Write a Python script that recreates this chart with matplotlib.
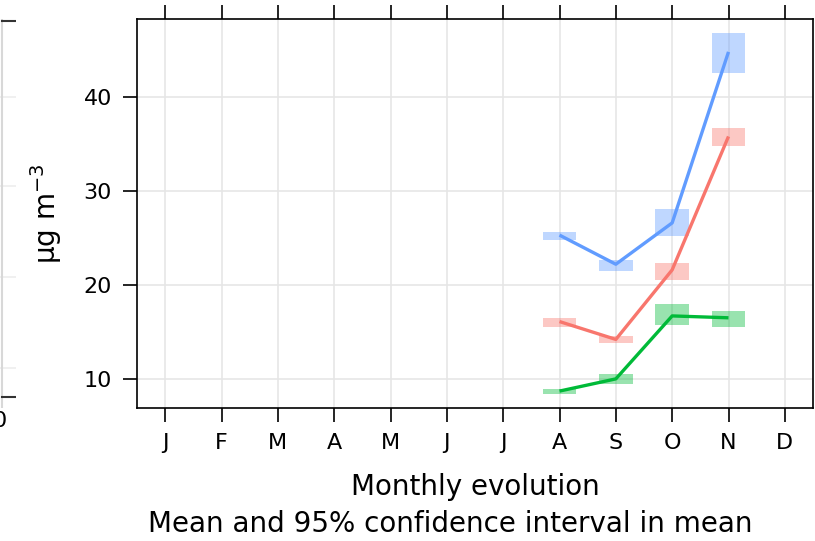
import matplotlib
matplotlib.use("Agg")
import matplotlib.pyplot as plt
from matplotlib.patches import Rectangle

plt.rcParams["font.family"] = ["DejaVu Sans"]

months = ["J", "F", "M", "A", "M", "J", "J", "A", "S", "O", "N", "D"]
month_num = [8, 9, 10, 11]

# monthly means and 95% CI (lower, upper) for the three series
blue_mean = [25.3, 22.2, 26.6, 44.8]
blue_low = [24.8, 21.5, 25.2, 42.5]
blue_high = [25.6, 22.6, 28.1, 46.85]

red_mean = [16.1, 14.2, 21.6, 35.8]
red_low = [15.55, 13.8, 20.5, 34.8]
red_high = [16.45, 14.6, 22.3, 36.7]

green_mean = [8.7, 10.0, 16.7, 16.5]
green_low = [8.4, 9.5, 15.7, 15.5]
green_high = [8.97, 10.5, 17.95, 17.2]

series = [
    (blue_mean, blue_low, blue_high, "#619CFF"),
    (red_mean, red_low, red_high, "#F8766D"),
    (green_mean, green_low, green_high, "#00BA38"),
]

W, H = 815, 541
fig = plt.figure(figsize=(W / 100, H / 100), dpi=100)

left, right, top, bottom = 137, 813, 19, 408
ax = fig.add_axes([left / W, 1 - bottom / H, (right - left) / W, (bottom - top) / H])

# neighbouring panel, mostly cut off at the left edge
ax0 = fig.add_axes([-0.1, 1 - bottom / H, 0.1 + 16 / W, (bottom - top) / H])
ax0.set_xlim(0, 1)
ax0.set_ylim(0, 1)
ax0.axis("off")
x_edge = 1 - 14.5 / (0.1 * W + 16)
for gy in [0.103, 0.337, 0.571, 0.80]:
    ax0.axhline(gy, color="#ececec", lw=1.1)
ax0.axvline(x_edge, color="#d8d8d8", lw=1.5)
for ty in [0.995, 0.028]:
    ax0.axhline(ty, xmin=x_edge, xmax=1, color="#333333", lw=1.5)
fig.text(0, 1 - 421 / H, "0", fontsize=16, ha="center", va="center")

box_w = 0.6
for mean, low, high, col in series:
    for m, lo, hi in zip(month_num, low, high):
        ax.add_patch(Rectangle((m - box_w / 2, lo), box_w, hi - lo,
                               facecolor=col, alpha=0.4, edgecolor="none", zorder=2))
    ax.plot(month_num, mean, color=col, lw=2.4, zorder=3, solid_capstyle="butt")

ax.set_xlim(0.5, 12.5)
ax.set_ylim(6.9, 48.3)
ax.set_xticks(range(1, 13))
ax.set_xticklabels(months)
ax.set_yticks([10, 20, 30, 40])
ax.grid(True, color="#e6e6e6", lw=1.2, zorder=0)
ax.set_axisbelow(True)

ax.tick_params(axis="x", which="both", direction="out", length=10, width=1.2,
               labelsize=16, pad=8, top=True, bottom=True)
ax.tick_params(axis="y", direction="out", length=10, width=1.2,
               labelsize=16, pad=8, right=False)
for sp in ax.spines.values():
    sp.set_linewidth(1.2)
    sp.set_color("black")

ax.set_ylabel("µg m$^{-3}$", fontsize=20, labelpad=14)

fig.text(475.5 / W, 1 - 487 / H, "Monthly evolution",
         fontsize=20, ha="center", va="center")
fig.text(450 / W, 1 - 524 / H, "Mean and 95% confidence interval in mean",
         fontsize=20, ha="center", va="center")

fig.savefig("out.png", dpi=100)
